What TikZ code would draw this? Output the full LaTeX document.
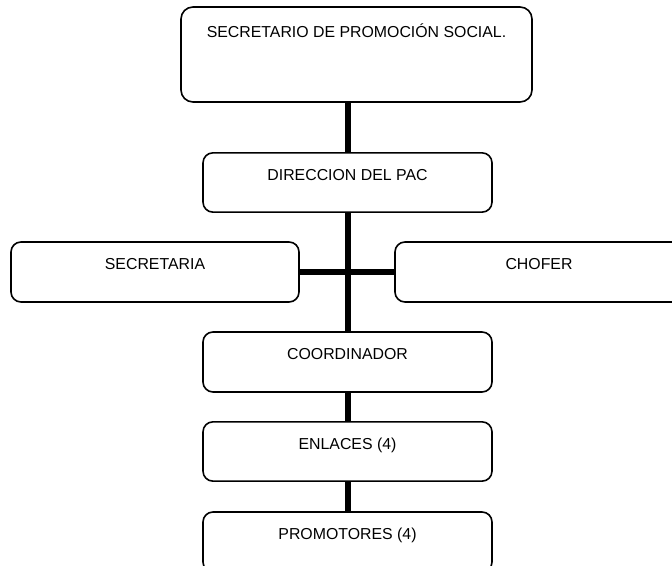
\documentclass[tikz,border=0pt]{standalone}
\usepackage{fontspec}
\setmainfont{Liberation Sans}
\begin{document}
\begin{tikzpicture}[x=0.75pt,y=-0.75pt,
  box/.style={draw=black, line width=1.2pt, rounded corners=7.5pt, fill=white,
    inner sep=0pt, minimum width=216.75pt, minimum height=44.5pt},
  txt/.style={anchor=base, inner sep=0pt, font=\fontsize{11.9}{14}\selectfont},
  vlink/.style={line width=4.5pt, black},
  hlink/.style={line width=3.8pt, black}]
\clip (0,0) rectangle (672,566);
\fill[white] (0,0) rectangle (672,566);
% boxes
\node[box, minimum width=263.25pt, minimum height=71.25pt, rounded corners=9pt] (b0) at (356.5,54.5) {};
\node[box] (b1) at (347.5,182.5) {};
\node[box, minimum width=216pt, minimum height=45pt] (sec) at (155,272) {};
\node[box, minimum width=216pt, minimum height=45pt] (cho) at (539,272) {};
\node[box, minimum height=45pt] (coo) at (347.5,362) {};
\node[box] (enl) at (347.5,451.5) {};
\node[box, minimum height=45pt] (pro) at (347.5,542) {};
% connectors
\draw[vlink] (b1.north) -- (b1.north |- b0.south);
\draw[vlink] (b1.south) -- (coo.north);
\draw[hlink] (sec.east) -- (cho.west);
\draw[vlink] (coo.south) -- (enl.north);
\draw[vlink] (enl.south) -- (pro.north);
% texts
\node[txt] (t0) at ([yshift=-23.5pt]b0.north) {SECRETARIO DE PROMOCIÓN SOCIAL.};
\node[txt] (t1) at ([yshift=-21pt]b1.north) {DIRECCION DEL PAC};
\node[txt] (t2) at ([yshift=-21pt]sec.north) {SECRETARIA};
\node[txt] (t3) at ([yshift=-21pt]cho.north) {CHOFER};
\node[txt] (t4) at ([yshift=-21pt]coo.north) {COORDINADOR};
\node[txt] (t5) at ([yshift=-21pt]enl.north) {ENLACES (4)};
\node[txt] (t6) at ([yshift=-21pt]pro.north) {PROMOTORES (4)};
\end{tikzpicture}
\end{document}
